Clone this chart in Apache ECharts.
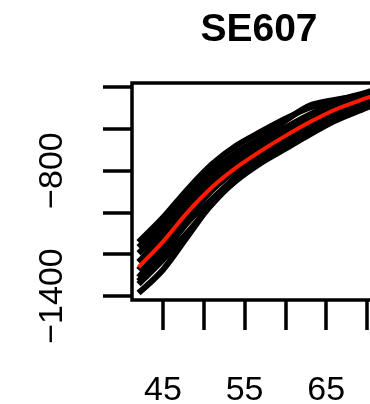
<!DOCTYPE html>
<html>
<head>
<meta charset="utf-8">
<script src="https://cdn.jsdelivr.net/npm/echarts@6/dist/echarts.min.js"></script>
<style>
  html, body { margin: 0; padding: 0; background: #fff; }
  #chart { width: 370px; height: 404px; }
</style>
</head>
<body>
<div id="chart"></div>
<script>
// Ages sampled along each trajectory
var ages = [42, 45, 48, 51, 54, 57, 60, 63, 66, 69, 72, 76, 80];

// Individual trajectories (black)
var traj1 = [-1142, -1025, -890, -770, -680, -614, -552, -498, -467, -437, -402, -360, -324];
var traj2 = [-1166, -1054, -919, -803, -713, -643, -561, -489, -462, -442, -407, -365, -329];
var traj3 = [-1195, -1083, -943, -823, -732, -662, -595, -532, -481, -447, -412, -370, -334];
var traj4 = [-1238, -1111, -967, -847, -756, -686, -614, -551, -496, -456, -416, -374, -338];
var traj5 = [-1276, -1140, -990, -870, -780, -710, -638, -570, -510, -466, -426, -384, -348];
var traj6 = [-1310, -1178, -1019, -894, -795, -724, -657, -589, -524, -480, -436, -394, -358];
var traj7 = [-1329, -1197, -1048, -937, -828, -739, -667, -599, -534, -490, -445, -403, -367];
var traj8 = [-1343, -1226, -1096, -961, -842, -753, -676, -613, -558, -509, -459, -413, -372];
var traj9 = [-1386, -1274, -1115, -957, -847, -763, -695, -627, -563, -514, -469, -422, -381];

// Mean curve (red)
var meanCurve = [-1262, -1140, -1000, -880, -785, -706, -634, -568, -510, -466, -426, -384, -348];

// Axis ticks and labels
var xTicks = [45, 50, 55, 60, 65, 70, 75, 80];
var xLabels = [45, 55, 65];
var yTicks = [-1400, -1200, -1000, -800, -600, -400];
var yLabels = [-1400, -800];

var chartTitle = 'SE607';

function pairs(ys) {
  return ages.map(function (a, i) { return [a, ys[i]]; });
}

var blackSets = [traj1, traj2, traj3, traj4, traj5, traj6, traj7, traj8, traj9];
var series = blackSets.map(function (ys) {
  return {
    type: 'line',
    data: pairs(ys),
    showSymbol: false,
    symbol: 'none',
    smooth: 0.3,
    lineStyle: { color: '#000', width: 6 },
    z: 2
  };
});
series.push({
  type: 'line',
  data: pairs(meanCurve),
  showSymbol: false,
  symbol: 'none',
  smooth: 0.3,
  lineStyle: { color: '#ff1a00', width: 4 },
  z: 3
});

function minusFmt(v) {
  return String(v).replace('-', '\u2212');
}

var chart = echarts.init(document.getElementById('chart'), null, { renderer: 'canvas' });
chart.setOption({
  animation: false,
  backgroundColor: '#fff',
  title: {
    text: chartTitle,
    left: 254,
    top: 6,
    textAlign: 'center',
    textStyle: {
      fontFamily: 'Liberation Sans, Arial, sans-serif',
      fontWeight: 'bold',
      fontSize: 39,
      color: '#000'
    }
  },
  grid: {
    left: 132,
    top: 83,
    bottom: 104,
    right: -78.6,
    containLabel: false,
    outerBoundsMode: 'none',
    show: true,
    borderColor: '#000',
    borderWidth: 3.5,
    backgroundColor: 'transparent'
  },
  xAxis: {
    type: 'value',
    min: 41.2,
    max: 80,
    splitLine: { show: false },
    axisLine: { show: false },
    axisTick: {
      show: true,
      inside: false,
      length: 30,
      customValues: xTicks,
      lineStyle: { color: '#000', width: 3.5 }
    },
    axisLabel: {
      show: true,
      customValues: xLabels,
      margin: 74,
      fontFamily: 'Liberation Sans, Arial, sans-serif',
      fontSize: 34,
      color: '#000'
    }
  },
  yAxis: {
    type: 'value',
    min: -1419,
    max: -381,
    splitLine: { show: false },
    axisLine: { show: false },
    axisTick: {
      show: true,
      inside: false,
      length: 29,
      customValues: yTicks,
      lineStyle: { color: '#000', width: 3.5 }
    },
    axisLabel: {
      show: true,
      customValues: yLabels,
      rotate: 90,
      margin: 62,
      formatter: minusFmt,
      fontFamily: 'Liberation Sans, Arial, sans-serif',
      fontSize: 34,
      color: '#000'
    }
  },
  series: series
});
</script>
</body>
</html>
